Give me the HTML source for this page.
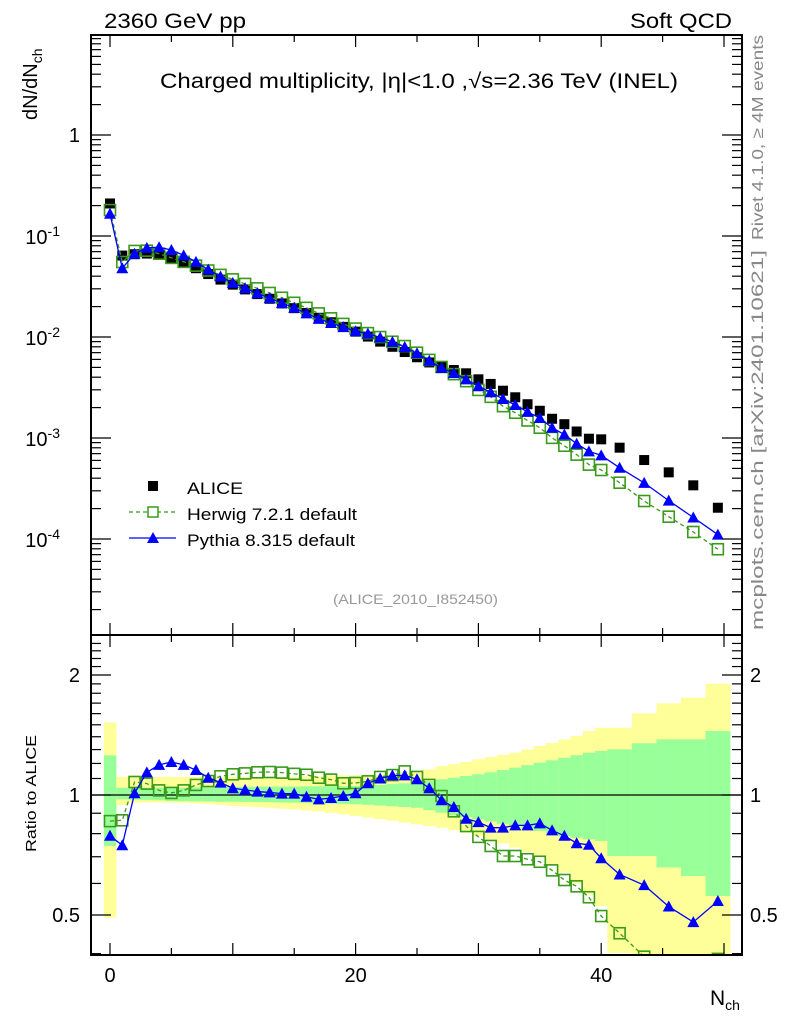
<!DOCTYPE html>
<html><head><meta charset="utf-8"><style>
html,body{margin:0;padding:0;background:#fff;}
svg{display:block;font-family:"Liberation Sans",sans-serif;}
</style></head><body>
<svg id="c" width="786" height="1024" viewBox="0 0 786 1024" xmlns="http://www.w3.org/2000/svg">
<text x="104" y="28" font-size="21" textLength="142" lengthAdjust="spacingAndGlyphs">2360 GeV pp</text>
<text x="630" y="28" font-size="21" textLength="102" lengthAdjust="spacingAndGlyphs">Soft QCD</text>
<text x="160" y="88" font-size="21" textLength="518" lengthAdjust="spacingAndGlyphs">Charged multiplicity, |η|&lt;1.0 ,√s=2.36 TeV (INEL)</text>
<text transform="translate(763,240) rotate(-90)" font-size="16" fill="#888" textLength="205" lengthAdjust="spacingAndGlyphs">Rivet 4.1.0, ≥ 4M events</text>
<text transform="translate(763,630) rotate(-90)" font-size="17" fill="#888" textLength="380" lengthAdjust="spacingAndGlyphs">mcplots.cern.ch [arXiv:2401.10621]</text>
<text transform="translate(37,120) rotate(-90)" font-size="20">dN/dN<tspan font-size="14" dy="5">ch</tspan></text>
<text transform="translate(36,852) rotate(-90)" font-size="15" textLength="117" lengthAdjust="spacingAndGlyphs">Ratio to ALICE</text>
<text x="710" y="1005" font-size="21">N<tspan font-size="14" dy="5">ch</tspan></text>
<text x="333" y="604" font-size="14" fill="#999" textLength="165" lengthAdjust="spacingAndGlyphs">(ALICE_2010_I852450)</text>
<g id="bands"></g>
<g id="main"></g>
<g id="ratio"></g>
<g id="axes"></g>
<g>
<rect x="148" y="481" width="10" height="10" fill="#000"/>
<text x="187" y="494" font-size="17" textLength="56" lengthAdjust="spacingAndGlyphs">ALICE</text>
<line x1="129" y1="512" x2="176" y2="512" stroke="#3a9a1a" stroke-dasharray="4,3" stroke-width="1.3"/>
<rect x="148" y="507" width="10" height="10" fill="#fff" stroke="#3a9a1a" stroke-width="1.5"/>
<text x="187" y="520" font-size="17" textLength="170" lengthAdjust="spacingAndGlyphs">Herwig 7.2.1 default</text>
<line x1="129" y1="538" x2="176" y2="538" stroke="#00f" stroke-width="1.3"/>
<polygon points="153,532 159,543 147,543" fill="#00f"/>
<text x="187" y="546" font-size="17" textLength="168" lengthAdjust="spacingAndGlyphs">Pythia 8.315 default</text>
</g>
</svg>
<script>
const nch = [0,1,2,3,4,5,6,7,8,9,10,11,12,13,14,15,16,17,18,19,20,21,22,23,24,25,26,27,28,29,30,31,32,33,34,35,36,37,38,39,40,41.5,43.5,45.5,47.5,49.5];
const binW = nch.map(x => x > 40.5 ? 2 : 1);
const alice = [0.21,0.064,0.066,0.067,0.065,0.060,0.054,0.048,0.042,0.037,0.033,0.0296,0.0266,0.0239,0.0215,0.0193,0.0173,0.0155,0.0140,0.0126,0.0113,0.0101,0.0090,0.0080,0.0071,0.0063,0.0056,0.00508,0.00471,0.00437,0.00381,0.00343,0.00294,0.00253,0.00216,0.00186,0.00155,0.00137,0.00116,0.000984,0.00097,0.000802,0.000605,0.000457,0.00034,0.000204];
const pythiaRatio = [0.79,0.748,1.01,1.14,1.19,1.21,1.19,1.155,1.105,1.074,1.04,1.03,1.02,1.015,1.008,1.008,0.99,0.975,0.983,0.994,1.01,1.07,1.10,1.12,1.12,1.095,1.04,0.97,0.933,0.872,0.855,0.828,0.828,0.839,0.839,0.849,0.815,0.79,0.757,0.75,0.694,0.632,0.594,0.525,0.48,0.542];
const herwigRatio = [0.86,0.864,1.078,1.068,1.027,1.012,1.027,1.06,1.084,1.114,1.127,1.133,1.14,1.142,1.138,1.13,1.124,1.105,1.093,1.07,1.072,1.082,1.11,1.122,1.146,1.11,1.06,0.994,0.91,0.836,0.785,0.745,0.703,0.703,0.69,0.68,0.647,0.612,0.59,0.554,0.497,0.45,0.393,0.364,0.345,0.388];
const yellowUp = [1.52,1.11,1.11,1.11,1.11,1.11,1.11,1.11,1.11,1.11,1.11,1.11,1.11,1.11,1.11,1.11,1.115,1.115,1.12,1.12,1.12,1.125,1.127,1.13,1.14,1.149,1.16,1.182,1.195,1.21,1.229,1.245,1.26,1.277,1.30,1.327,1.35,1.379,1.406,1.447,1.475,1.475,1.603,1.698,1.754,1.902];
const yellowDn = [0.492,0.944,0.957,0.957,0.957,0.957,0.955,0.952,0.95,0.945,0.938,0.935,0.932,0.928,0.924,0.92,0.915,0.91,0.903,0.895,0.886,0.878,0.87,0.862,0.853,0.844,0.836,0.828,0.816,0.804,0.79,0.774,0.756,0.738,0.72,0.703,0.67,0.639,0.6,0.563,0.527,0.402,0.3,0.3,0.3,0.3];
const greenUp = [1.257,1.043,1.043,1.043,1.043,1.043,1.043,1.045,1.045,1.047,1.048,1.048,1.049,1.05,1.05,1.05,1.051,1.051,1.052,1.052,1.053,1.056,1.06,1.065,1.07,1.074,1.085,1.095,1.105,1.116,1.127,1.14,1.155,1.171,1.188,1.205,1.222,1.24,1.258,1.277,1.29,1.302,1.348,1.379,1.379,1.447];
const greenDn = [0.745,0.975,0.974,0.972,0.97,0.966,0.965,0.964,0.963,0.962,0.962,0.961,0.96,0.959,0.958,0.957,0.955,0.953,0.951,0.95,0.948,0.945,0.941,0.937,0.933,0.929,0.916,0.903,0.89,0.88,0.869,0.858,0.847,0.836,0.824,0.812,0.8,0.789,0.781,0.774,0.767,0.703,0.703,0.658,0.626,0.558];
const mainTicks = ["1","10","-1","-2","-3","-4"];
const ratioTickVals = [0.5,1,2];
const xTickVals = [0,20,40];

const NS = "http://www.w3.org/2000/svg";
const L = 91, R = 742, MT = 35, MB = 635, RT = 635, RB = 955;
const X = v => 110 + v * 12.28;
const YM = v => 135 - 101 * Math.log10(v);
const YR = v => 795 - 120 * Math.log2(v);
function mk(tag, attrs, parent) { const e = document.createElementNS(NS, tag); for (const k in attrs) e.setAttribute(k, attrs[k]); parent.appendChild(e); return e; }
const svg = document.getElementById('c');
const defs = mk('defs', {}, svg);
const cm = mk('clipPath', {id: 'cm'}, defs); mk('rect', {x: L, y: MT, width: R - L, height: MB - MT}, cm);
const cr = mk('clipPath', {id: 'cr'}, defs); mk('rect', {x: L, y: RT, width: R - L, height: RB - RT}, cr);

const bands = document.getElementById('bands'); bands.setAttribute('clip-path', 'url(#cr)');
nch.forEach((n, i) => {
  const x0 = X(n - binW[i] / 2), x1 = X(n + binW[i] / 2);
  const y = mk('rect', {x: x0, y: YR(yellowUp[i]), width: x1 - x0 + 0.3, height: YR(yellowDn[i]) - YR(yellowUp[i]), fill: '#ffff99'}, bands);
  
  
  const g = mk('rect', {x: x0, y: YR(greenUp[i]), width: x1 - x0 + 0.3, height: YR(greenDn[i]) - YR(greenUp[i]), fill: '#99ff99'}, bands);
  
  
});
mk('line', {x1: L, x2: R, y1: YR(1), y2: YR(1), stroke: '#000', 'stroke-width': 1.2}, bands);

function tri(parent, cx, cy, name) {
  const p = mk('polygon', {points: `${cx},${cy - 6} ${cx + 6},${cy + 5} ${cx - 6},${cy + 5}`, fill: '#00f'}, parent);
  
  
}
function osq(parent, cx, cy, name) {
  const r = mk('rect', {x: cx - 5.5, y: cy - 5.5, width: 11, height: 11, fill: 'none', stroke: '#3a9a1a', 'stroke-width': 1.6}, parent);
  
  
}
const main = document.getElementById('main'); main.setAttribute('clip-path', 'url(#cm)');
const herwig = alice.map((a, i) => a * herwigRatio[i]);
const pythia = alice.map((a, i) => a * pythiaRatio[i]);
nch.forEach((n, i) => {
  const s = mk('rect', {x: X(n) - 5, y: YM(alice[i]) - 5, width: 10, height: 10, fill: '#000'}, main);
  
  
});
mk('polyline', {points: nch.map((n, i) => X(n) + ',' + YM(herwig[i])).join(' '), fill: 'none', stroke: '#3a9a1a', 'stroke-width': 1.3, 'stroke-dasharray': '4,3'}, main);
nch.forEach((n, i) => osq(main, X(n), YM(herwig[i]), 'herwig-point'));
mk('polyline', {points: nch.map((n, i) => X(n) + ',' + YM(pythia[i])).join(' '), fill: 'none', stroke: '#00f', 'stroke-width': 1.3}, main);
nch.forEach((n, i) => tri(main, X(n), YM(pythia[i]), 'pythia-point'));
const ratio = document.getElementById('ratio'); ratio.setAttribute('clip-path', 'url(#cr)');
mk('polyline', {points: nch.map((n, i) => X(n) + ',' + YR(herwigRatio[i])).join(' '), fill: 'none', stroke: '#3a9a1a', 'stroke-width': 1.3, 'stroke-dasharray': '4,3'}, ratio);
nch.forEach((n, i) => osq(ratio, X(n), YR(herwigRatio[i]), 'herwig-ratio-point'));
mk('polyline', {points: nch.map((n, i) => X(n) + ',' + YR(pythiaRatio[i])).join(' '), fill: 'none', stroke: '#00f', 'stroke-width': 1.3}, ratio);
nch.forEach((n, i) => tri(ratio, X(n), YR(pythiaRatio[i]), 'pythia-ratio-point'));

const ax = document.getElementById('axes');
mk('rect', {x: L, y: MT, width: R - L, height: MB - MT, fill: 'none', stroke: '#000', 'stroke-width': 2}, ax);
mk('rect', {x: L, y: RT, width: R - L, height: RB - RT, fill: 'none', stroke: '#000', 'stroke-width': 2}, ax);
function ln(x1, y1, x2, y2) { mk('line', {x1, y1, x2, y2, stroke: '#000', 'stroke-width': 1.2}, ax); }
function txt(x, y, s, anchor, size) { const t = mk('text', {x, y, 'font-size': size || 20, 'text-anchor': anchor || 'end'}, ax); t.textContent = s; return t; }
for (let v = 0; v <= 50; v += 5) {
  const x = X(v), len = v % 10 === 0 ? 12 : 7;
  ln(x, MT, x, MT + len); ln(x, MB, x, MB - len); ln(x, RT, x, RT + len); ln(x, RB, x, RB - len);
}
xTickVals.forEach(v => { const t = txt(X(v), 982, String(v), 'middle');   });
for (let e = -5; e <= 1; e++) {
  for (let m = 1; m <= 9; m++) {
    const v = m * Math.pow(10, e), y = YM(v);
    if (y < MT || y > MB) continue;
    const len = m === 1 ? 20 : 10;
    ln(L, y, L + len, y); ln(R, y, R - len, y);
  }
}
const t1 = txt(80, YM(1) + 7, mainTicks[0]);  
[-1, -2, -3, -4].forEach((e, k) => {
  const t = txt(60, YM(Math.pow(10, e)) + 8, mainTicks[1]);
  
  
  const s = mk('tspan', {dy: -8, 'font-size': 14}, t); s.textContent = mainTicks[k + 2];
});
for (let v = 0.4; v <= 2.5; v += 0.1) {
  const y = YR(v); if (y < RT || y > RB) continue;
  const major = [0.5, 1, 2].some(q => Math.abs(q - v) < 1e-6);
  const len = major ? 20 : 10;
  ln(L, y, L + len, y); ln(R, y, R - len, y);
}
ratioTickVals.forEach(v => {
  const t = txt(80, YR(v) + 7, String(v));
  
  
  const t2 = txt(750, YR(v) + 7, String(v), 'start');
  
  
});
</script>
</body></html>
